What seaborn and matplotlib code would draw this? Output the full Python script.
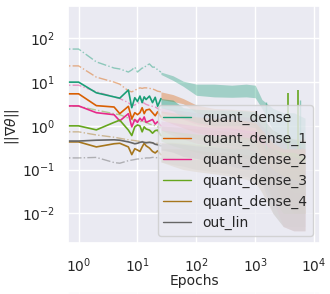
import matplotlib
matplotlib.use('Agg')
import matplotlib.pyplot as plt
import seaborn as sns
import numpy as np

sns.set_theme(style='darkgrid')
plt.rcParams['font.family'] = ['DejaVu Sans']

layers = ['quant_dense', 'quant_dense_1', 'quant_dense_2', 'quant_dense_3', 'quant_dense_4', 'out_lin']
colors = sns.color_palette('Dark2', 8)
colors = [colors[0], colors[1], colors[3], colors[4], colors[6], colors[7]]

# first epochs (line drawn point by point)
epochs = [0, 1, 2, 4, 5, 7, 8, 9, 10, 11, 12, 13, 14, 16, 18, 20, 22, 25]

# solid lines
qd_solid = [10, 10, 5.7, 4.6, 4.3, 6.6, 2.6, 4.4, 3.6, 4.8, 3.4, 4.6, 4.0, 4.8, 3.4, 4.5, 2.8, 4.2]
qd1_solid = [5.4, 5.4, 2.9, 2.7, 1.9, 2.8, 1.45, 2.0, 1.8, 2.0, 2.6, 1.9, 2.3, 2.4, 2.0, 1.7, 2.1, 1.6]
qd2_solid = [2.86, 2.86, 2.0, 1.8, 1.3, 1.9, 0.95, 1.4, 1.2, 1.5, 1.3, 1.6, 1.2, 1.3, 1.4, 1.1, 1.25, 1.0]
qd3_solid = [1.0, 1.0, 0.81, 1.2, 1.35, 0.8, 0.6, 0.95, 1.05, 1.0, 0.73, 0.95, 0.85, 0.8, 0.68, 0.78, 0.8, 0.6]
qd4_solid = [0.43, 0.43, 0.33, 0.39, 0.40, 0.33, 0.22, 0.30, 0.28, 0.26, 0.33, 0.40, 0.35, 0.31, 0.26, 0.24, 0.27, 0.22]
out_solid = [0.45, 0.45, 0.47, 0.48, 0.47, 0.43, 0.41, 0.39, 0.40, 0.42, 0.43, 0.42, 0.41, 0.42, 0.41, 0.38, 0.37, 0.35]

# light dash-dot lines
qd_light = [57, 57, 29, 21, 20, 17, 19, 22, 17, 19, 21, 21, 24, 26, 22, 22, 19, 17]
qd1_light = [23.5, 23.5, 13, 10, 9, 6.3, 6.0, 6.5, 7.0, 7.4, 7.2, 7.4, 7.4, 7.2, 7.0, 6.6, 6.2, 6.0]
qd2_light = [8.5, 8.5, 6.0, 4.6, 4.2, 3.4, 2.9, 3.0, 3.3, 3.4, 3.5, 3.3, 3.1, 2.9, 2.8, 2.7, 2.5, 2.3]
qd3_light = [2.8, 2.8, 2.3, 1.9, 1.8, 1.5, 1.4, 1.3, 1.35, 1.3, 1.2, 1.25, 1.2, 1.1, 1.05, 1.0, 0.95, 0.9]
qd4_light = [0.73, 0.73, 0.62, 0.55, 0.52, 0.48, 0.47, 0.46, 0.45, 0.44, 0.44, 0.43, 0.42, 0.42, 0.41, 0.40, 0.40, 0.39]
out_light = [0.185, 0.185, 0.19, 0.145, 0.14, 0.16, 0.165, 0.17, 0.175, 0.175, 0.18, 0.18, 0.185, 0.185, 0.19, 0.19, 0.185, 0.18]

# later epochs: the curves are too noisy to read point by point,
# so keep the low / high envelope of each one
band_epochs = [25, 40, 60, 100, 200, 400, 700, 1000, 1300, 2000, 3000, 4500, 7000]

qd_solid_lo = [2.6, 2.2, 1.5, 1.2, 1.0, 1.0, 1.0, 0.9, 0.4, 0.1, 0.05, 0.03, 0.03]
qd_solid_hi = [4.2, 3.9, 2.6, 2.4, 2.3, 2.3, 2.2, 2.1, 1.5, 0.8, 0.6, 0.5, 0.4]
qd1_solid_lo = [1.4, 1.1, 0.9, 0.7, 0.6, 0.5, 0.5, 0.4, 0.2, 0.05, 0.02, 0.01, 0.01]
qd1_solid_hi = [2.2, 2.0, 1.8, 1.6, 1.5, 1.4, 1.3, 1.2, 0.8, 0.4, 0.3, 0.3, 0.3]
qd2_solid_lo = [0.8, 0.6, 0.5, 0.4, 0.35, 0.3, 0.3, 0.25, 0.1, 0.02, 0.005, 0.004, 0.004]
qd2_solid_hi = [1.3, 1.2, 1.1, 1.0, 0.9, 0.9, 0.8, 0.8, 0.5, 0.3, 0.2, 0.2, 0.15]
qd3_solid_lo = [0.45, 0.35, 0.3, 0.25, 0.2, 0.2, 0.18, 0.15, 0.08, 0.02, 0.01, 0.01, 0.01]
qd3_solid_hi = [0.8, 0.75, 0.7, 0.65, 0.6, 0.6, 0.55, 0.5, 0.4, 0.3, 0.25, 0.25, 0.2]
qd4_solid_lo = [0.15, 0.12, 0.1, 0.09, 0.08, 0.07, 0.06, 0.05, 0.03, 0.01, 0.005, 0.004, 0.004]
qd4_solid_hi = [0.3, 0.3, 0.3, 0.28, 0.25, 0.25, 0.22, 0.2, 0.15, 0.08, 0.05, 0.05, 0.05]
out_solid_lo = [0.28, 0.25, 0.2, 0.18, 0.15, 0.12, 0.1, 0.1, 0.05, 0.01, 0.005, 0.004, 0.004]
out_solid_hi = [0.4, 0.4, 0.38, 0.35, 0.33, 0.3, 0.3, 0.28, 0.2, 0.1, 0.07, 0.06, 0.05]

qd_light_lo = [15, 11, 8, 5.0, 4.6, 4.5, 4.6, 4.4, 2.5, 0.8, 0.4, 0.3, 0.3]
qd_light_hi = [17, 14, 10.5, 9, 9, 8.5, 9, 8.5, 4.0, 2.5, 2.0, 2.0, 1.5]
qd1_light_lo = [4.0, 3.6, 3.2, 2.0, 1.5, 1.3, 1.2, 1.0, 0.5, 0.2, 0.1, 0.1, 0.1]
qd1_light_hi = [6, 5.2, 4.2, 3.0, 2.5, 2.4, 2.3, 2.2, 1.5, 0.8, 0.6, 0.5, 0.5]
qd2_light_lo = [2.0, 1.7, 1.4, 1.1, 0.9, 0.8, 0.7, 0.6, 0.3, 0.08, 0.02, 0.01, 0.01]
qd2_light_hi = [2.6, 2.4, 2.2, 2.0, 1.8, 1.7, 1.6, 1.5, 1.0, 0.6, 0.4, 0.4, 0.3]
qd3_light_lo = [0.8, 0.7, 0.6, 0.5, 0.4, 0.35, 0.3, 0.3, 0.15, 0.05, 0.02, 0.02, 0.02]
qd3_light_hi = [1.0, 0.95, 0.9, 0.85, 0.8, 0.75, 0.7, 0.7, 0.5, 0.3, 0.2, 0.2, 0.2]
qd4_light_lo = [0.3, 0.25, 0.2, 0.18, 0.15, 0.13, 0.12, 0.1, 0.05, 0.02, 0.01, 0.01, 0.01]
qd4_light_hi = [0.42, 0.42, 0.4, 0.38, 0.35, 0.33, 0.3, 0.3, 0.2, 0.12, 0.08, 0.08, 0.07]
out_light_lo = [0.15, 0.13, 0.12, 0.1, 0.09, 0.08, 0.07, 0.06, 0.03, 0.01, 0.005, 0.005, 0.005]
out_light_hi = [0.19, 0.19, 0.18, 0.17, 0.16, 0.15, 0.14, 0.13, 0.1, 0.06, 0.04, 0.04, 0.03]

# isolated spikes
qd3_spike_epochs = [3600, 5300]
qd3_spike_tops = [5.5, 6.5]
qd_light_spike_epochs = [1500, 5800]
qd_light_spike_tops = [3.5, 3.9]

solid = [qd_solid, qd1_solid, qd2_solid, qd3_solid, qd4_solid, out_solid]
light = [qd_light, qd1_light, qd2_light, qd3_light, qd4_light, out_light]
solid_lo = [qd_solid_lo, qd1_solid_lo, qd2_solid_lo, qd3_solid_lo, qd4_solid_lo, out_solid_lo]
solid_hi = [qd_solid_hi, qd1_solid_hi, qd2_solid_hi, qd3_solid_hi, qd4_solid_hi, out_solid_hi]
light_lo = [qd_light_lo, qd1_light_lo, qd2_light_lo, qd3_light_lo, qd4_light_lo, out_light_lo]
light_hi = [qd_light_hi, qd1_light_hi, qd2_light_hi, qd3_light_hi, qd4_light_hi, out_light_hi]

fig = plt.figure(figsize=(3.3, 2.94), dpi=100)
ax = fig.add_axes([68 / 330, 1 - 243 / 294, 252 / 330, 237 / 294])

for i, name in enumerate(layers):
    c = colors[i]
    sns.lineplot(x=epochs, y=light[i], color=c, alpha=0.45, lw=1.0,
                 linestyle='-.', ax=ax, legend=False)
    ax.fill_between(band_epochs, light_lo[i], light_hi[i], color=c, alpha=0.35, lw=0)

for i, name in enumerate(layers):
    c = colors[i]
    sns.lineplot(x=epochs, y=solid[i], color=c, lw=1.2, ax=ax, label=name)
    ax.fill_between(band_epochs, solid_lo[i], solid_hi[i], color=c, alpha=0.45, lw=0)

ax.vlines(qd3_spike_epochs, 0.3, qd3_spike_tops, color=colors[3], lw=1.2)
ax.vlines(qd_light_spike_epochs, 0.3, qd_light_spike_tops, color=colors[0], alpha=0.45, lw=1.0)

ax.set_xscale('log')
ax.set_yscale('log')
ax.set_xlim(0.66, 12600)
ax.set_ylim(0.0021, 550)
ax.set_xticks([1, 10, 100, 1000, 10000])
ax.set_yticks([0.01, 0.1, 1, 10, 100])
ax.tick_params(labelsize=10)
ax.tick_params(axis='x', pad=4)
ax.set_xlabel('Epochs', fontsize=10)
ax.set_ylabel(r'$||\nabla\theta||$', fontsize=10)
ax.xaxis.set_label_coords(0.5, (243 - 274) / 237)
ax.yaxis.set_label_coords((21 - 68) / 252, 0.49)

leg = ax.legend(loc='lower right', fontsize=10)
for h in leg.get_lines():
    h.set_linewidth(1.0)

# top of the next panel, cut off by the crop
ax2 = fig.add_axes([68 / 330, 0, 252 / 330, 2.5 / 294])
ax2.set_xscale('log')
ax2.set_xlim(0.66, 12600)
ax2.set_xticks([1, 10, 100, 1000, 10000])
ax2.set_xticklabels([])
ax2.set_yticks([])

fig.savefig('out.png', dpi=100)
